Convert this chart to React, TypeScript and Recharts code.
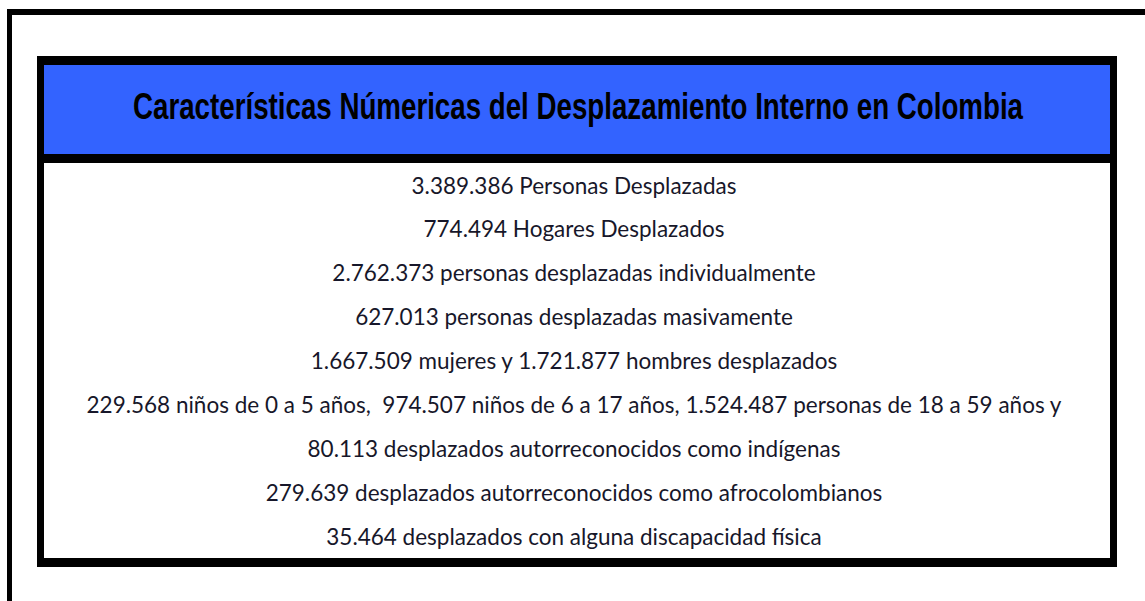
import { BarChart, Bar, XAxis, YAxis, LabelList } from "recharts";

const TITLE = "Características Númericas del Desplazamiento Interno en Colombia";

// each row: the leading figure and the text that follows it
const figures = [
  "3.389.386",
  "774.494",
  "2.762.373",
  "627.013",
  "1.667.509",
  "229.568",
  "80.113",
  "279.639",
  "35.464",
];

const descriptions = [
  "Personas Desplazadas",
  "Hogares Desplazados",
  "personas desplazadas individualmente",
  "personas desplazadas masivamente",
  "mujeres y 1.721.877 hombres desplazados",
  "niños de 0 a 5 años,  974.507 niños de 6 a 17 años, 1.524.487 personas de 18 a 59 años y",
  "desplazados autorreconocidos como indígenas",
  "desplazados autorreconocidos como afrocolombianos",
  "desplazados con alguna discapacidad física",
];

// every cell spans the full row
const cellSpan = [1, 1, 1, 1, 1, 1, 1, 1, 1];

const rows = figures.map((f, i) => ({
  line: `${f} ${descriptions[i]}`,
  span: cellSpan[i],
}));

const BLUE = "#3363FF";
const INK = "#17172a";

function RowText(props: any) {
  const { x, y, width, height, value } = props;
  return (
    <text
      x={x + width / 2}
      y={y + height / 2}
      textAnchor="middle"
      dominantBaseline="central"
      fill={INK}
      style={{ fontFamily: "Lato, 'Noto Sans', sans-serif", fontSize: 22.5, whiteSpace: "pre" }}
    >
      {value}
    </text>
  );
}

export default function App() {
  return (
    <div
      style={{
        position: "absolute",
        left: 0,
        top: 0,
        width: 1145,
        height: 601,
        overflow: "hidden",
        background: "#fff",
      }}
    >
      {/* outer frame, cut off on the right and bottom */}
      <div
        style={{
          position: "absolute",
          left: 7,
          top: 9,
          width: 1200,
          height: 700,
          borderTop: "6px solid #000",
          borderLeft: "5px solid #000",
          boxSizing: "border-box",
        }}
      />
      <div
        style={{
          position: "absolute",
          left: 37,
          top: 56,
          width: 1080,
          height: 511,
          borderStyle: "solid",
          borderColor: "#000",
          borderWidth: "9px 7px",
          boxSizing: "border-box",
          background: "#fff",
        }}
      >
        <div style={{ height: 89, background: BLUE, borderBottom: "9px solid #000" }}>
          <svg width={1066} height={89} style={{ display: "block", overflow: "visible" }}>
            <g transform="translate(534, 54) scale(1, 1.2)">
              <text
                x={0}
                y={0}
                textAnchor="middle"
                textLength={890}
                lengthAdjust="spacingAndGlyphs"
                fill="#000"
                style={{
                  fontFamily: "'Liberation Sans Narrow', 'Liberation Sans', Arial, sans-serif",
                  fontSize: 30,
                  fontWeight: "bold",
                }}
              >
                {TITLE}
              </text>
            </g>
          </svg>
        </div>
        <BarChart
          width={1066}
          height={395}
          data={rows}
          layout="vertical"
          margin={{ top: 0, right: 6, bottom: 0, left: 0 }}
          barCategoryGap={0}
        >
          <XAxis type="number" domain={[0, 1]} hide />
          <YAxis type="category" dataKey="line" hide />
          <Bar dataKey="span" fill="none" isAnimationActive={false}>
            <LabelList dataKey="line" content={RowText} />
          </Bar>
        </BarChart>
      </div>
    </div>
  );
}
